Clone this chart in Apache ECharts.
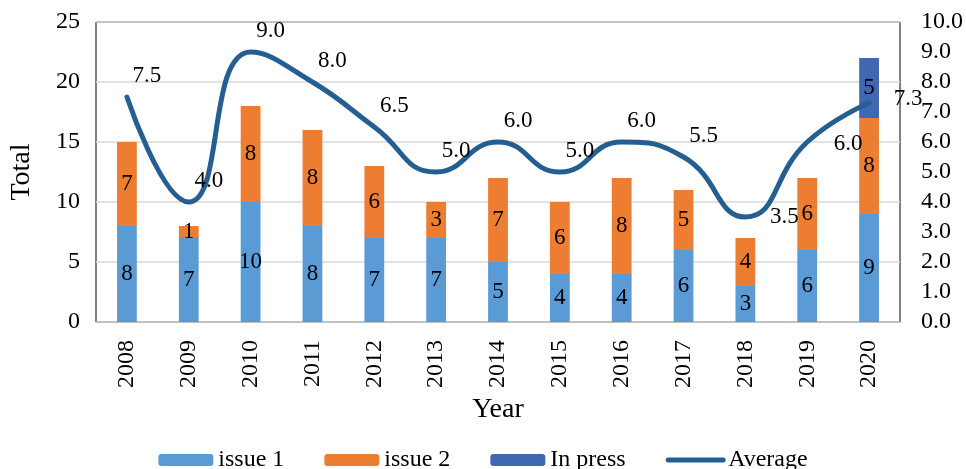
<!DOCTYPE html>
<html><head><meta charset="utf-8">
<script src="https://cdn.jsdelivr.net/npm/echarts@6/dist/echarts.min.js"></script>
<style>html,body{margin:0;padding:0;background:#fff}#c{width:966px;height:469px}</style>
</head><body><div id="c"></div>
<script>
const years = ['2008','2009','2010','2011','2012','2013','2014','2015','2016','2017','2018','2019','2020'];
const issue1 = [8,7,10,8,7,7,5,4,4,6,3,6,9];
const issue2 = [7,1,8,8,6,3,7,6,8,5,4,6,8];
const inPress = [null,null,null,null,null,null,null,null,null,null,null,null,5];
const average = [7.5,4.0,9.0,8.0,6.5,5.0,6.0,5.0,6.0,5.5,3.5,6.0,7.3];

const FONT = "'Liberation Serif','Times New Roman',serif";
const labelOffsetOverride = {10:[39,16], 11:[41,18], 12:[39,12]};
const avgLabelData = average.map((v,i)=>({
  value: v,
  label: { offset: labelOffsetOverride[i] || [20,-5] }
}));

const barLabel = { show:true, position:'inside', color:'#000', fontFamily:FONT, fontSize:23 };
const chart = echarts.init(document.getElementById('c'));
chart.setOption({
  animation:false,
  textStyle:{fontFamily:FONT},
  grid:{left:93,right:66,top:22,bottom:147,show:true,borderColor:'#000',borderWidth:1},
  legend:{
    top:443, left:'center', itemWidth:55, itemHeight:12, itemGap:40,
    textStyle:{fontFamily:FONT,fontSize:24,color:'#000'},
    data:[{name:'issue 1'},{name:'issue 2'},{name:'In press'},
          {name:'Average',itemStyle:{opacity:0},lineStyle:{width:5,cap:'round',color:'#255e91'}}]
  },
  xAxis:{
    type:'category', data:years,
    name:'Year', nameLocation:'middle', nameGap:74,
    nameTextStyle:{fontFamily:FONT,fontSize:28,color:'#000'},
    axisLine:{lineStyle:{color:'#bfbfbf',width:1}},
    axisTick:{show:false},
    axisLabel:{rotate:90,fontFamily:FONT,fontSize:24,color:'#000',margin:18}
  },
  yAxis:[
    {type:'value',min:0,max:25,interval:5,
     name:'Total',nameLocation:'middle',nameGap:60,
     nameTextStyle:{fontFamily:FONT,fontSize:28,color:'#000'},
     axisLine:{show:false},axisTick:{show:false},
     axisLabel:{fontFamily:FONT,fontSize:24,color:'#000',margin:16},
     splitLine:{lineStyle:{color:'#d9d9d9',width:1.5}}},
    {type:'value',min:0,max:10,interval:1,
     axisLine:{show:false},axisTick:{show:false},
     axisLabel:{fontFamily:FONT,fontSize:24,color:'#000',margin:21,formatter:v=>v.toFixed(1)},
     splitLine:{show:false}}
  ],
  series:[
    {name:'issue 1',type:'bar',stack:'t',data:issue1,barWidth:'32%',itemStyle:{color:'#5b9bd5'},label:barLabel},
    {name:'issue 2',type:'bar',stack:'t',data:issue2,itemStyle:{color:'#ed7d31'},label:barLabel},
    {name:'In press',type:'bar',stack:'t',data:inPress,itemStyle:{color:'#4067b1'},label:barLabel},
    {name:'Average',type:'line',yAxisIndex:1,data:average,smooth:0.5,symbol:'none',z:5,
     lineStyle:{color:'#255e91',width:5,cap:'round'},itemStyle:{color:'#255e91'}},
    {name:'AverageLabels',type:'scatter',yAxisIndex:1,data:avgLabelData,symbolSize:0.01,z:6,silent:true,
     itemStyle:{color:'#255e91',opacity:1},
     label:{show:true,position:'top',distance:5,color:'#000',opacity:1,textBorderWidth:0,
            fontFamily:FONT,fontSize:23,formatter:p=>p.value.toFixed(1)}}
  ]
});
</script></body></html>
